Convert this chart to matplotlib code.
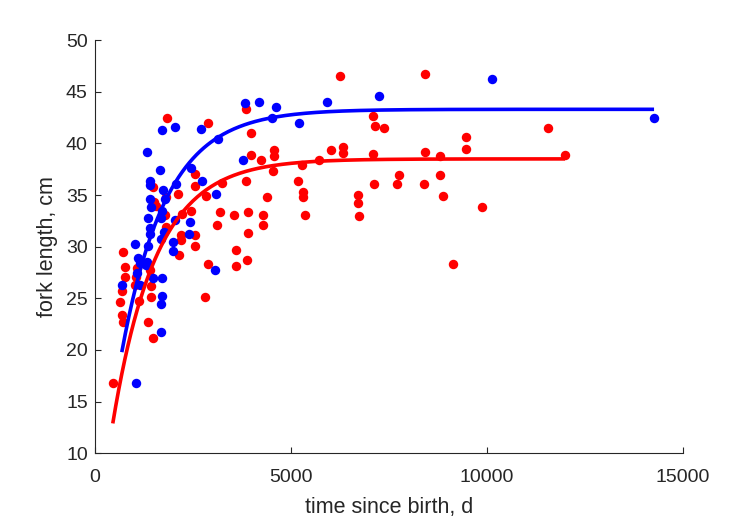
import numpy as np
import matplotlib
matplotlib.use('Agg')
import matplotlib.pyplot as plt

# -----------------------------------------------------------------------------
# data (time since birth in d, fork length in cm)

blue_t = [10128, 14260, 7245, 5918, 5204, 3827, 4184, 4617, 4515, 1709,
          2041, 2704, 3138, 1327, 3776, 1658, 2449, 1403, 1403, 1735,
          2066, 2730, 1786, 3087, 1403, 1429, 1709, 1352, 1684, 2041,
          2423, 1403, 1403, 1760, 2398, 1684, 1990, 1020, 1352, 1990,
          1097, 1327, 1148, 1071, 1480, 1709, 3061, 689, 1148, 1709,
          1684, 1684, 1046, 1301]
blue_L = [46.2, 42.5, 44.6, 44.0, 42.0, 43.9, 44.0, 43.5, 42.5, 41.3,
          41.6, 41.4, 40.4, 39.2, 38.4, 37.4, 37.6, 36.4, 36.0, 35.5,
          36.1, 36.4, 34.6, 35.1, 34.6, 33.8, 33.5, 32.8, 32.8, 32.6,
          32.4, 31.8, 31.2, 31.4, 31.2, 30.7, 30.5, 30.3, 30.1, 29.6,
          28.9, 28.5, 28.4, 27.5, 27.0, 27.0, 27.7, 26.3, 26.3, 25.2,
          24.5, 21.7, 16.8, 28.2]

red_t = [6250, 8418, 7092, 7143, 7372, 9464, 9464, 6020, 6327, 6327,
         7092, 8418, 8801, 5714, 5281, 5179, 5306, 5306, 5357, 6709,
         6709, 6735, 7117, 7755, 7704, 8393, 8801, 8878, 9872, 9133,
         11556, 11990, 1837, 2883, 3852, 3980, 3980, 4235, 4566, 4566,
         4541, 3852, 4388, 2551, 2551, 3240, 2832, 2117, 3189, 3546,
         3903, 4286, 4286, 3112, 3903, 3597, 3597, 3878, 2883, 2551,
         2551, 2194, 2194, 2449, 2219, 1480, 1505, 1786, 1811, 1811,
         714, 765, 765, 1071, 1403, 2143, 459, 689, 638, 689,
         714, 1020, 1352, 1480, 1429, 1429, 2806, 1556, 1131, 1046]
red_L = [46.5, 46.7, 42.7, 41.7, 41.5, 40.6, 39.5, 39.4, 39.7, 39.1,
         39.0, 39.2, 38.8, 38.4, 37.9, 36.4, 35.3, 34.8, 33.1, 35.0,
         34.2, 33.0, 36.1, 36.9, 36.1, 36.1, 36.9, 34.9, 33.8, 28.3,
         41.5, 38.9, 42.5, 42.0, 43.3, 41.0, 38.9, 38.4, 39.4, 38.8,
         37.3, 36.4, 34.8, 37.0, 35.9, 36.2, 34.9, 35.1, 33.4, 33.1,
         33.4, 33.1, 32.1, 32.1, 31.3, 29.7, 28.1, 28.7, 28.3, 31.1,
         30.1, 31.1, 30.6, 33.5, 33.2, 35.8, 34.3, 33.1, 31.9, 34.8,
         29.5, 28.0, 27.1, 27.9, 27.7, 29.2, 16.8, 25.7, 24.6, 23.4,
         22.7, 26.3, 22.7, 21.2, 25.1, 26.2, 25.1, 33.9, 24.7, 27.1]

# von Bertalanffy fits: L(t) = Linf * (1 - exp(-k (t - t0)))
blue_fit = dict(Linf=43.3, k=0.00088, t0=-5)
red_fit = dict(Linf=38.5, k=0.0009, t0=6)


def vb(t, Linf, k, t0):
    return Linf * (1 - np.exp(-k * (t - t0)))

# -----------------------------------------------------------------------------

plt.rcParams['font.family'] = ['Liberation Sans', 'DejaVu Sans']
dark = (0.15, 0.15, 0.15)

f = plt.figure(figsize=(7.29, 5.21), dpi=100)
ax = f.add_axes([0.13, 0.13, 0.807, 0.793])

ax.plot(red_t, red_L, 'o', color='red', markersize=6.8, markeredgewidth=0)
ax.plot(blue_t, blue_L, 'o', color='blue', markersize=6.8, markeredgewidth=0)

for t_obs, fit, c in [(red_t, red_fit, 'red'), (blue_t, blue_fit, 'blue')]:
    tt = np.linspace(min(t_obs), max(t_obs), 300)
    ax.plot(tt, vb(tt, **fit), color=c, linewidth=2.6, solid_capstyle='butt')

ax.set_xlim(0, 15000)
ax.set_ylim(10, 50)
ax.set_xticks([0, 5000, 10000, 15000])
ax.set_yticks(np.arange(10, 51, 5))

for s in ['top', 'right']:
    ax.spines[s].set_visible(False)
for s in ['left', 'bottom']:
    ax.spines[s].set_color(dark)
    ax.spines[s].set_linewidth(0.8)
ax.tick_params(direction='in', length=4.5, width=0.8, colors=dark,
               labelsize=14, pad=5)
ax.tick_params(axis='x', pad=11)

ax.set_xlabel('time since birth, d', fontsize=15.5, color=dark, labelpad=8)
ax.set_ylabel('fork length, cm', fontsize=15.5, color=dark, labelpad=6)

plt.savefig('out.png', dpi=100)
